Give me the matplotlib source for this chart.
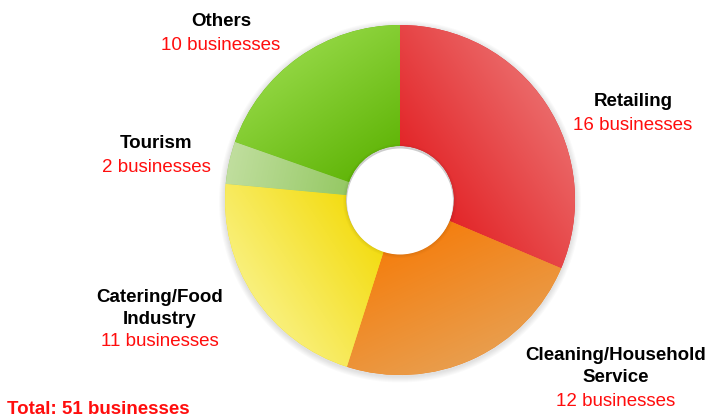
import numpy as np
import matplotlib.pyplot as plt
from matplotlib.patches import Circle
from matplotlib.colors import to_rgb

plt.rcParams['font.family'] = ['Liberation Sans', 'DejaVu Sans']

# data
categories = ['Retailing', 'Cleaning/Household\nService', 'Catering/Food\nIndustry', 'Tourism', 'Others']
counts = [16, 12, 11, 2, 10]
dark_cols = ['#e3272a', '#f57d0c', '#f3db0a', '#8ec55a', '#5db304']
light_cols = ['#eb6868', '#e99d4c', '#f9f07c', '#c0de9e', '#90d540']

W, H = 708, 418
fig = plt.figure(figsize=(W / 100, H / 100), dpi=100)
ax = fig.add_axes([0, 0, 1, 1])

cx, cy = 400, H - 200
R, r_in = 175, 54

# soft shadow
for k in range(6):
    ax.add_patch(Circle((cx, cy - 1.5), R + 6 - k, color='black', alpha=0.018, lw=0, zorder=0))

wedges, _ = ax.pie(counts, radius=R, center=(cx, cy), startangle=90, counterclock=False,
                   wedgeprops=dict(width=R - r_in, linewidth=0), frame=True)

# gradient fill for each slice
xs = np.linspace(cx - R, cx + R, 400)
ys = np.linspace(cy - R, cy + R, 400)
gx, gy = np.meshgrid(xs, ys)
for w, c0, c1 in zip(wedges, dark_cols, light_cols):
    th = np.deg2rad((w.theta1 + w.theta2) / 2)
    ux, uy = np.cos(th), np.sin(th)
    t = ((gx - cx) * ux + (gy - cy) * uy - r_in * 0.6) / (R - r_in * 0.6)
    t = np.clip(t, 0, 1)[..., None]
    a, b = np.array(to_rgb(c0)), np.array(to_rgb(c1))
    img = a * (1 - t) + b * t
    w.set_facecolor(c0)
    im = ax.imshow(img, extent=(cx - R, cx + R, cy - R, cy + R), origin='lower',
                   interpolation='bilinear', zorder=2)
    im.set_clip_path(w)

# inner hole shadow
for k in range(4):
    ax.add_patch(Circle((cx, cy - 1), r_in + 3 - k, color='black', alpha=0.02, lw=0, zorder=3))
ax.add_patch(Circle((cx, cy - 1.5), r_in - 1, color='white', lw=0, zorder=4))

ax.set_xlim(0, W)
ax.set_ylim(0, H)
ax.set_aspect('auto')
ax.axis('off')

red = '#ff0d0d'
fs = 13.5
# label positions: centre x, y of first name line, y of count (pixels from top)
label_pos = [(633, 102, 125), (616, 355, 401), (160, 297, 341), (156, 143, 168), (221, 21, 45)]
for name, n, (lx, ly, ny) in zip(categories, counts, label_pos):
    for i, line in enumerate(name.split('\n')):
        ax.text(lx, H - (ly + 22 * i), line, ha='center', va='center', fontsize=fs,
                fontweight='bold', color='black')
    ax.text(lx, H - ny, f'{n} businesses', ha='center', va='center', fontsize=fs, color=red)

ax.text(7, H - 410, f'Total: {sum(counts)} businesses', ha='left', va='center', fontsize=fs,
        fontweight='bold', color=red)

fig.savefig('out.png', dpi=100)
